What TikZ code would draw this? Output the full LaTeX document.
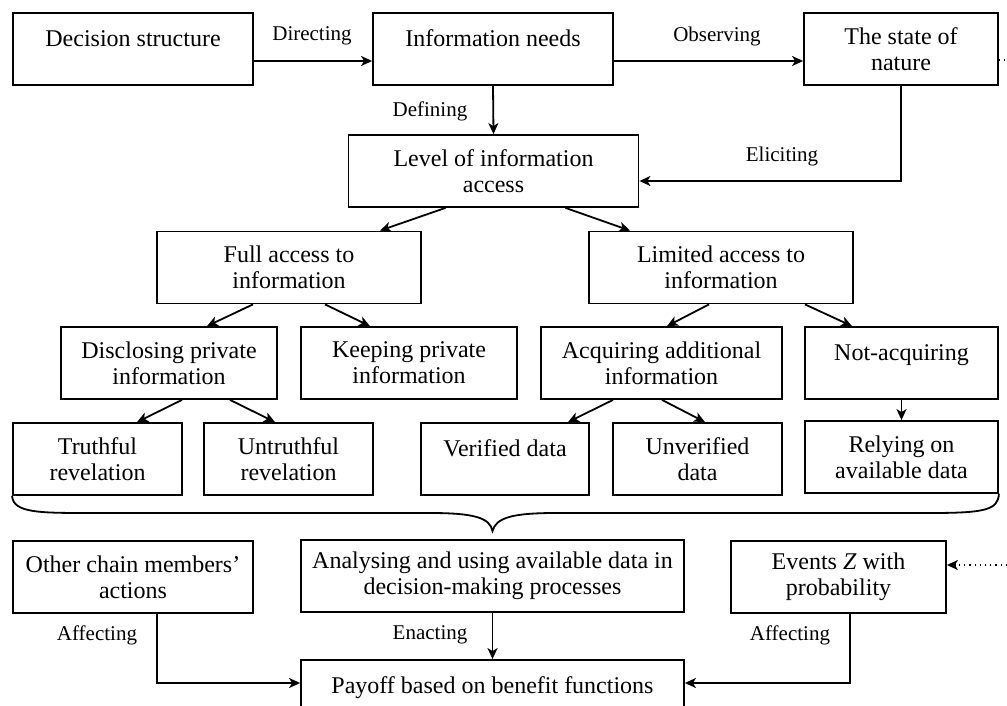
\documentclass[tikz,border=0pt]{standalone}
\usepackage{fontspec}
\setmainfont{Liberation Serif}
\usetikzlibrary{arrows.meta}
\begin{document}
\begin{tikzpicture}[x=0.5pt,y=-0.5pt,>={Stealth[length=5.5pt,width=5pt,inset=1.5pt]},line width=0.9pt,
	font=\fontsize{12}{13}\selectfont,
	box/.style={draw,align=center,minimum height=36pt,inner sep=2pt},
	oneline/.style={text height=8.5pt,text depth=10.6pt},
	lbl/.style={font=\fontsize{10.5}{12}\selectfont}]
	\useasboundingbox (0,0) rectangle (1007,706);
	% boxes
	\node[box,oneline,minimum width=120pt] (ds) at (133,49) {Decision structure};
	\node[box,oneline,minimum width=120pt] (need) at (493,49) {Information needs};
	\node[box,minimum width=97pt] (nat) at (901,49) {The state of\\nature};
	\node[box,minimum width=145pt] (lvl) at (493.5,171) {Level of information\\access};
	\node[box,minimum width=132pt] (full) at (289,267.5) {Full access to\\information};
	\node[box,minimum width=132pt] (lim) at (721,267.5) {Limited access to\\information};
	\node[box,minimum width=108pt] (disc) at (169,363) {Disclosing private\\information};
	\node[box,minimum width=108pt] (keep) at (409,363) {Keeping private\\information};
	\node[box,minimum width=120.5pt] (acq) at (661.5,363) {Acquiring additional\\information};
	\node[box,oneline,minimum width=96.5pt] (nacq) at (901.5,363) {Not-acquiring};
	\node[box,minimum width=84.5pt] (tru) at (97.5,459) {Truthful\\revelation};
	\node[box,minimum width=84.5pt] (untru) at (288.5,459) {Untruthful\\revelation};
	\node[box,oneline,minimum width=84pt] (ver) at (505,459) {Verified data};
	\node[box,minimum width=84.5pt] (unver) at (697.5,459) {Unverified\\data};
	\node[box,minimum width=96.5pt] (rely) at (901.5,457) {Relying on\\available data};
	\node[box,minimum width=120pt] (other) at (133,577) {Other chain members’\\actions};
	\node[box,minimum width=191.5pt] (ana) at (492.5,576) {Analysing and using available data in\\decision-making processes};
	\node[box,minimum width=107.5pt] (ev) at (838.5,577) {Events \textit{Z} with\\probability};
	\node[box,oneline,minimum width=191.5pt] (pay) at (492.5,696) {Payoff based on benefit functions};
	% labels
	\node[lbl] (ldir) at (312,36) {Directing};
	\node[lbl] (lobs) at (717,36) {Observing};
	\node[lbl] (ldef) at (430,111) {Defining};
	\node[lbl] (leli) at (782,156) {Eliciting};
	\node[lbl] (laffa) at (97,635) {Affecting};
	\node[lbl] (lena) at (430,635) {Enacting};
	\node[lbl] (laffb) at (790,635) {Affecting};
	% connectors
	\draw[->] ([yshift=-6pt]ds.east) -- ([yshift=-6pt]need.west);
	\draw[->] ([yshift=-6pt]need.east) -- ([yshift=-6pt]nat.west);
	\draw[->] (need.south) -- (lvl.north);
	\draw[->] (nat.south) |- ([yshift=-5pt]lvl.east);
	\draw[->] ([xshift=-24pt]lvl.south) -- ([xshift=45.5pt]full.north);
	\draw[->] ([xshift=36pt]lvl.south) -- ([xshift=-45.5pt]lim.north);
	\draw[->] ([xshift=-18pt]full.south) -- ([xshift=19pt]disc.north);
	\draw[->] ([xshift=18pt]full.south) -- ([xshift=-19.5pt]keep.north);
	\draw[->] ([xshift=-6pt]lim.south) -- ([xshift=2.75pt]acq.north);
	\draw[->] ([xshift=42pt]lim.south) -- ([xshift=-24.75pt]nacq.north);
	\draw[->] ([xshift=6.5pt]disc.south) -- ([xshift=19.75pt]tru.north);
	\draw[->] ([xshift=30.5pt]disc.south) -- ([xshift=-6.75pt]untru.north);
	\draw[->] ([xshift=-24.25pt]acq.south) -- ([xshift=31.5pt]ver.north);
	\draw[->] ([xshift=0.25pt]acq.south) -- ([xshift=3.75pt]unver.north);
	\draw[->] (nacq.south) -- (rely.north);
	\draw[->] ([xshift=12pt]other.south) |- ([yshift=6.5pt]pay.west);
	\draw[->] (ana.south) -- (pay.north);
	\draw[->] ([xshift=5.75pt]ev.south) |- ([yshift=6.5pt]pay.east);
	% brace
	\coordinate (tip) at ([yshift=4pt]ana.north);
	\draw (tru.south west) .. controls (13,513) and (40,513) .. (90,513) -- (430,513)
		.. controls (475,513) and (490,518) .. (tip)
		.. controls (496,518) and (511,513) .. (556,513) -- (930,513)
		.. controls (985,513) and (998,510) .. (rely.south east);
	% dotted links
	\coordinate (natout) at (1007,60);
	\coordinate (evin) at (1007,565);
	\draw[dotted,line width=0.6pt] ([yshift=-5.5pt]nat.east) -- (natout);
	\draw[->,dotted,line width=0.6pt] (evin) -- ([yshift=6pt]ev.east);
\end{tikzpicture}
\end{document}
